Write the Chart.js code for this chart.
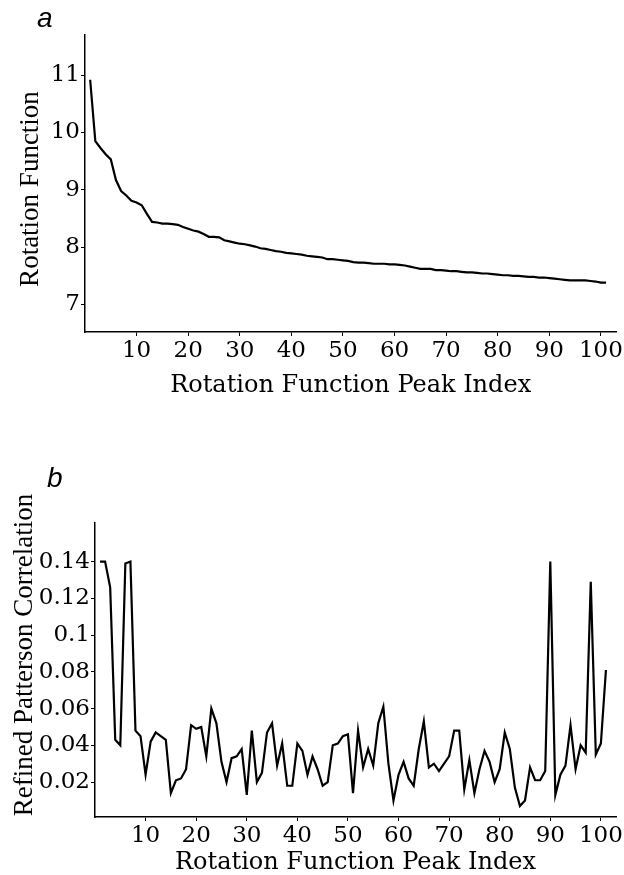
<!DOCTYPE html>
<html>
<head>
<meta charset="utf-8">
<script src="https://cdn.jsdelivr.net/npm/chart.js@4.4.1/dist/chart.umd.min.js"></script>
<style>
  body { margin: 0; background: #fff; width: 624px; height: 875px; position: relative; overflow: hidden; }
  .panel { position: absolute; left: 0; width: 624px; }
  .tag { position: absolute; font-family: "Liberation Sans", Arial, sans-serif; font-style: italic;
         font-size: 28px; line-height: 28px; color: #000; }
  .ytitle { position: absolute; font-family: "Liberation Serif", "Times New Roman", serif; font-size: 27px;
            line-height: 1; white-space: nowrap; color: #000;
            transform: translate(-50%, -50%) rotate(-90deg); }
</style>
</head>
<body>
<div class="panel" style="top:0;height:400px"><canvas id="chartA"></canvas></div>
<div class="panel" style="top:430px;height:445px"><canvas id="chartB"></canvas></div>
<div class="tag" style="left:37px;top:4px">a</div>
<div class="tag" style="left:47px;top:464px">b</div>
<div class="ytitle" style="left:29px;top:189px">Rotation Function</div>
<div class="ytitle" style="left:23px;top:655px">Refined Patterson Correlation</div>
<script>
// rotation function peaks 1..101
const peakIndex = Array.from({length: 101}, (_, i) => i + 1);
const xTicks = [10, 20, 30, 40, 50, 60, 70, 80, 90, 100];

// panel a: rotation function value of each peak
const rotationValue = [
  10.92, 9.85, 9.73, 9.62, 9.53, 9.17, 8.98, 8.90, 8.81, 8.78,
  8.73, 8.58, 8.44, 8.43, 8.41, 8.41, 8.40, 8.39, 8.35, 8.32,
  8.29, 8.27, 8.23, 8.18, 8.18, 8.17, 8.12, 8.10, 8.08, 8.06,
  8.05, 8.03, 8.01, 7.98, 7.97, 7.95, 7.93, 7.92, 7.90, 7.89,
  7.88, 7.87, 7.85, 7.84, 7.83, 7.82, 7.79, 7.79, 7.78, 7.77,
  7.76, 7.74, 7.73, 7.73, 7.72, 7.71, 7.71, 7.71, 7.70, 7.70,
  7.69, 7.68, 7.66, 7.64, 7.62, 7.62, 7.62, 7.60, 7.60, 7.59,
  7.58, 7.58, 7.57, 7.56, 7.56, 7.55, 7.54, 7.54, 7.53, 7.52,
  7.51, 7.51, 7.50, 7.50, 7.49, 7.48, 7.48, 7.47, 7.47, 7.46,
  7.45, 7.44, 7.43, 7.42, 7.42, 7.42, 7.42, 7.41, 7.40, 7.38,
  7.38
];
const yTicksA = [7, 8, 9, 10, 11];

// panel b: refined patterson correlation of each peak
const pattersonValue = [
  0.140, 0.140, 0.126, 0.043, 0.040, 0.139, 0.140, 0.048, 0.045, 0.024,
  0.042, 0.047, 0.045, 0.043, 0.014, 0.021, 0.022, 0.027, 0.051, 0.049,
  0.050, 0.034, 0.060, 0.052, 0.031, 0.020, 0.033, 0.034, 0.038, 0.013,
  0.048, 0.020, 0.025, 0.047, 0.052, 0.029, 0.041, 0.018, 0.018, 0.041,
  0.037, 0.024, 0.034, 0.027, 0.018, 0.020, 0.040, 0.041, 0.045, 0.046,
  0.014, 0.048, 0.028, 0.038, 0.029, 0.052, 0.061, 0.030, 0.010, 0.024,
  0.031, 0.022, 0.018, 0.038, 0.053, 0.028, 0.030, 0.026, 0.030, 0.034,
  0.048, 0.048, 0.016, 0.032, 0.014, 0.027, 0.037, 0.031, 0.020, 0.027,
  0.047, 0.038, 0.017, 0.007, 0.010, 0.028, 0.021, 0.021, 0.026, 0.140,
  0.013, 0.024, 0.029, 0.051, 0.027, 0.040, 0.036, 0.129, 0.035, 0.041,
  0.081
];
const yTicksB = [0.02, 0.04, 0.06, 0.08, 0.1, 0.12, 0.14];

// the scan is a little wide, so horizontal text uses the wider serif
const WIDE_SERIF = '"DejaVu Serif", "Liberation Serif", serif';

function makeChart(id, values, yTicks, yMin, yMax, box) {
  let ctx = document.getElementById(id).getContext('2d');
  return new Chart(ctx, {
    type: 'line',
    data: {
      datasets: [{
        data: values.map((v, i) => ({x: peakIndex[i], y: v})),
        borderColor: '#000',
        borderWidth: 2.2,
        pointRadius: 0,
        tension: 0,
        fill: false
      }]
    },
    options: {
      responsive: true,
      maintainAspectRatio: false,
      animation: false,
      events: [],
      layout: {
        padding: {top: box.top, right: 6, left: 0, bottom: 0}
      },
      plugins: {
        legend: {display: false},
        tooltip: {enabled: false}
      },
      scales: {
        x: {
          type: 'linear',
          min: 0,
          max: 103,
          afterBuildTicks: s => { s.ticks = xTicks.map(v => ({value: v})); },
          afterFit: s => { s.height = box.xHeight; },
          border: {color: '#000', width: 1.5},
          grid: {drawOnChartArea: false, color: '#000', tickLength: 4, lineWidth: 1},
          ticks: {
            color: '#000',
            padding: 1,
            maxRotation: 0,
            autoSkip: false,
            font: {family: WIDE_SERIF, size: 23}
          },
          title: {
            display: true,
            text: 'Rotation Function Peak Index',
            color: '#000',
            padding: {top: 0, bottom: box.xTitlePad},
            font: {family: WIDE_SERIF, size: 24, lineHeight: 1}
          }
        },
        y: {
          min: yMin,
          max: yMax,
          afterBuildTicks: s => { s.ticks = yTicks.map(v => ({value: v})); },
          afterFit: s => { s.width = box.yWidth; },
          border: {color: '#000', width: 1.5},
          grid: {drawOnChartArea: false, color: '#000', tickLength: 4, lineWidth: 1},
          ticks: {
            color: '#000',
            padding: 1,
            autoSkip: false,
            font: {family: WIDE_SERIF, size: 23},
            callback: v => String(+v.toFixed(2))
          }
        }
      }
    }
  });
}

let chartA = makeChart('chartA', rotationValue, yTicksA, 6.52, 11.7,
  {top: 35, xHeight: 68, yWidth: 85, xTitlePad: 2});
let chartB = makeChart('chartB', pattersonValue, yTicksB, 0.001, 0.161,
  {top: 93, xHeight: 58, yWidth: 95, xTitlePad: 0});
</script>
</body>
</html>
